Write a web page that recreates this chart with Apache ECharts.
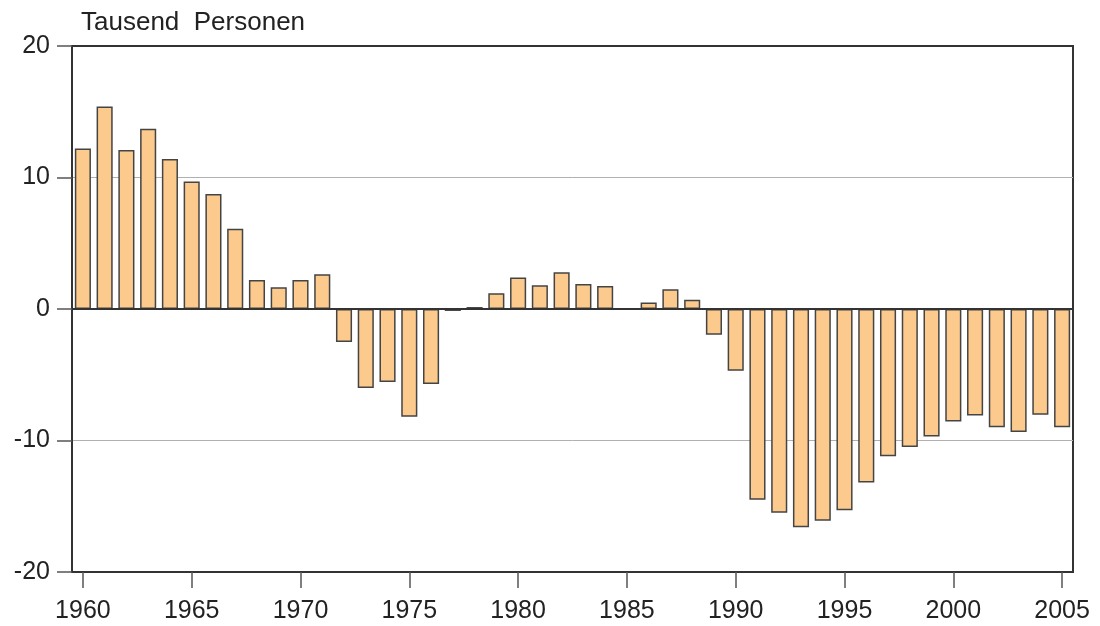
<!DOCTYPE html>
<html>
<head>
<meta charset="utf-8">
<script src="https://cdn.jsdelivr.net/npm/echarts@6/dist/echarts.min.js"></script>
<style>
html,body{margin:0;padding:0;background:#fff;}
#c{width:1100px;height:626px;}
</style>
</head>
<body>
<div id="c"></div>
<script>
const years = [];
for (let y = 1960; y <= 2005; y++) years.push(String(y));
const values = [
  12.2, 15.4, 12.1, 13.7, 11.4, 9.7, 8.75, 6.1, 2.2, 1.65,
  2.2, 2.65, -2.5, -6.0, -5.55, -8.2, -5.7, -0.15, 0.15, 1.2,
  2.4, 1.8, 2.8, 1.9, 1.75, 0.05, 0.5, 1.5, 0.7, -1.95,
  -4.7, -14.5, -15.5, -16.6, -16.1, -15.3, -13.2, -11.2, -10.5, -9.7,
  -8.55, -8.1, -9.0, -9.35, -8.05, -9.0
];
const yTicks = [-20, -10, 0, 10, 20];
const unitLabel = 'Tausend  Personen';

const font = 'Liberation Sans, Arial, Helvetica, sans-serif';
const chart = echarts.init(document.getElementById('c'), null, {renderer: 'canvas'});
chart.setOption({
  animation: false,
  backgroundColor: '#fff',
  title: {
    text: unitLabel,
    left: 76, top: 5,
    textStyle: {fontFamily: font, fontSize: 26, fontWeight: 'normal', color: '#222'}
  },
  grid: {
    left: 72, right: 27, top: 46, bottom: 54,
    show: true, borderColor: '#333', borderWidth: 2, backgroundColor: 'transparent'
  },
  xAxis: {
    type: 'category',
    data: years,
    boundaryGap: true,
    axisLine: {show: true, onZero: false, lineStyle: {color: '#333', width: 2}},
    axisTick: {show: true, interval: 4, alignWithLabel: true, length: 16, lineStyle: {color: '#555', width: 1.5}},
    axisLabel: {interval: 4, margin: 27, fontFamily: font, fontSize: 25, color: '#222'},
    splitLine: {show: false}
  },
  yAxis: {
    type: 'value',
    min: yTicks[0], max: yTicks[yTicks.length - 1], interval: 10,
    axisLine: {show: true, lineStyle: {color: '#333', width: 2}},
    axisTick: {show: true, length: 15, lineStyle: {color: '#555', width: 1.5}},
    axisLabel: {margin: 22, fontFamily: font, fontSize: 25, color: '#222'},
    splitLine: {show: true, lineStyle: {color: ['#333', '#b0b0b0', '#333', '#b0b0b0', '#333'], width: 1}}
  },
  series: [{
    type: 'bar',
    data: values,
    barCategoryGap: '26%',
    itemStyle: {color: '#FDCA8D', borderColor: '#444', borderWidth: 1.5},
    markLine: {
      silent: true, symbol: 'none', label: {show: false},
      lineStyle: {color: '#333', width: 2, type: 'solid'},
      data: [{yAxis: 0}]
    }
  }]
});
</script>
</body>
</html>
